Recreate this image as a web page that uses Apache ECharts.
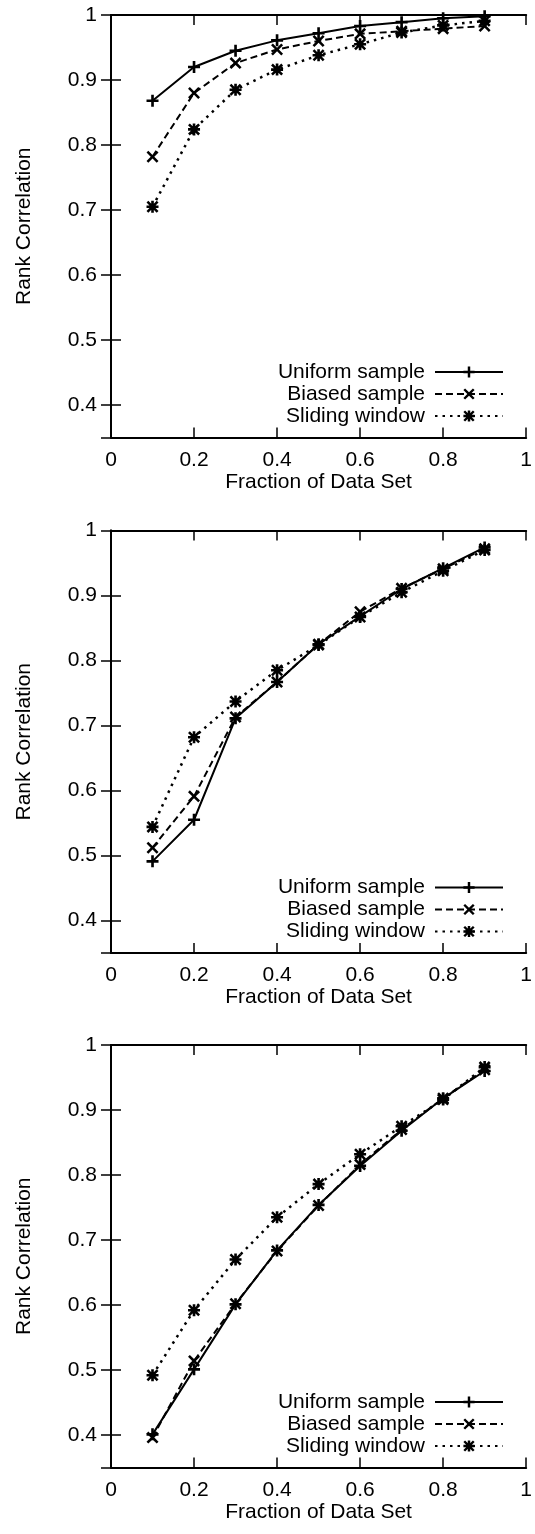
<!DOCTYPE html>
<html>
<head>
<meta charset="utf-8">
<script src="https://cdn.jsdelivr.net/npm/echarts@6/dist/echarts.min.js"></script>
<style>
  html, body { margin: 0; padding: 0; background: #ffffff; }
  #chart { width: 535px; height: 1534px; }
</style>
</head>
<body>
<div id="chart"></div>
<script>
// x positions (fraction of data set)
var fractions = [0.1, 0.2, 0.3, 0.4, 0.5, 0.6, 0.7, 0.8, 0.9];
var seriesNames = ['Uniform sample', 'Biased sample', 'Sliding window'];

// top panel
var uniform1 = [0.868, 0.920, 0.945, 0.961, 0.972, 0.983, 0.989, 0.995, 0.998];
var biased1  = [0.782, 0.880, 0.926, 0.947, 0.960, 0.971, 0.975, 0.979, 0.983];
var sliding1 = [0.705, 0.824, 0.885, 0.916, 0.938, 0.955, 0.973, 0.984, 0.991];

// middle panel
var uniform2 = [0.491, 0.555, 0.711, 0.767, 0.825, 0.868, 0.910, 0.942, 0.974];
var biased2  = [0.512, 0.591, 0.713, 0.767, 0.825, 0.875, 0.911, 0.941, 0.972];
var sliding2 = [0.544, 0.682, 0.737, 0.785, 0.824, 0.867, 0.905, 0.938, 0.970];

// bottom panel
var uniform3 = [0.401, 0.501, 0.601, 0.684, 0.754, 0.814, 0.868, 0.918, 0.960];
var biased3  = [0.396, 0.514, 0.602, 0.683, 0.753, 0.816, 0.870, 0.918, 0.962];
var sliding3 = [0.492, 0.592, 0.670, 0.735, 0.786, 0.832, 0.875, 0.916, 0.966];

var panels = [
  [uniform1, biased1, sliding1],
  [uniform2, biased2, sliding2],
  [uniform3, biased3, sliding3]
];

// gnuplot style point types: +, x, *
var plusShape = 'M39,0H61V39H100V61H61V100H39V61H0V39H39Z';
var crossShape = 'M0,15L15,0L50,35L85,0L100,15L65,50L100,85L85,100L50,65L15,100L0,85L35,50Z';
var symbols = ['path://' + plusShape, 'path://' + crossShape, 'path://' + plusShape + crossShape];
var lineTypes = ['solid', [7, 4], [2.5, 5]];
var lineWidths = [2, 2, 2.5];

var FONT = 'Liberation Sans, Arial, sans-serif';
var tops = [15, 530.5, 1045];
var plotH = 422.5;

var chart = echarts.init(document.getElementById('chart'));

var grids = [], xAxes = [], yAxes = [], series = [], legends = [];
panels.forEach(function (p, i) {
  grids.push({ left: 111, right: 7.5, top: tops[i], height: plotH });

  var baseX = {
    type: 'value', gridIndex: i, min: 0, max: 1, interval: 0.2,
    axisLine: { lineStyle: { color: '#000', width: 2 } },
    axisTick: { inside: true, length: 10, lineStyle: { color: '#000', width: 1.5 } },
    splitLine: { show: false }
  };
  xAxes.push(Object.assign({}, baseX, {
    position: 'bottom',
    name: 'Fraction of Data Set', nameLocation: 'middle', nameGap: 32,
    nameTextStyle: { fontFamily: FONT, fontSize: 21, color: '#000' },
    axisLabel: { margin: 12, fontFamily: FONT, fontSize: 21, color: '#000' }
  }));
  xAxes.push(Object.assign({}, baseX, { position: 'top', axisLabel: { show: false } }));

  var baseY = {
    type: 'value', gridIndex: i, min: 0.35, max: 1, splitNumber: 7,
    axisLine: { lineStyle: { color: '#000', width: 2 } },
    axisTick: { inside: true, length: 10, lineStyle: { color: '#000', width: 1.5 } },
    splitLine: { show: false }
  };
  yAxes.push(Object.assign({}, baseY, {
    position: 'left',
    name: 'Rank Correlation', nameLocation: 'middle', nameGap: 76,
    nameTextStyle: { fontFamily: FONT, fontSize: 21, color: '#000' },
    axisLabel: { margin: 14, fontFamily: FONT, fontSize: 21, color: '#000', showMinLabel: false }
  }));
  yAxes.push(Object.assign({}, baseY, { position: 'right', axisLabel: { show: false } }));

  p.forEach(function (vals, k) {
    series.push({
      name: seriesNames[k],
      type: 'line',
      xAxisIndex: 2 * i,
      yAxisIndex: 2 * i,
      data: fractions.map(function (f, j) { return [f, vals[j]]; }),
      symbol: symbols[k],
      symbolSize: 12,
      showAllSymbol: true,
      itemStyle: { color: '#000' },
      lineStyle: { color: '#000', width: lineWidths[k], type: lineTypes[k] },
      z: 3 - k
    });
  });

  legends.push({
    data: seriesNames,
    orient: 'vertical',
    align: 'right',
    right: 31,
    top: tops[i] + 346.5,
    padding: 0,
    itemWidth: 68,
    itemHeight: 14,
    itemGap: 1,
    selectedMode: false,
    textStyle: { fontFamily: FONT, fontSize: 21, color: '#000', padding: [0, 5, 0, 0] }
  });
});

chart.setOption({
  backgroundColor: '#ffffff',
  animation: false,
  grid: grids,
  xAxis: xAxes,
  yAxis: yAxes,
  legend: legends,
  series: series
});
</script>
</body>
</html>
